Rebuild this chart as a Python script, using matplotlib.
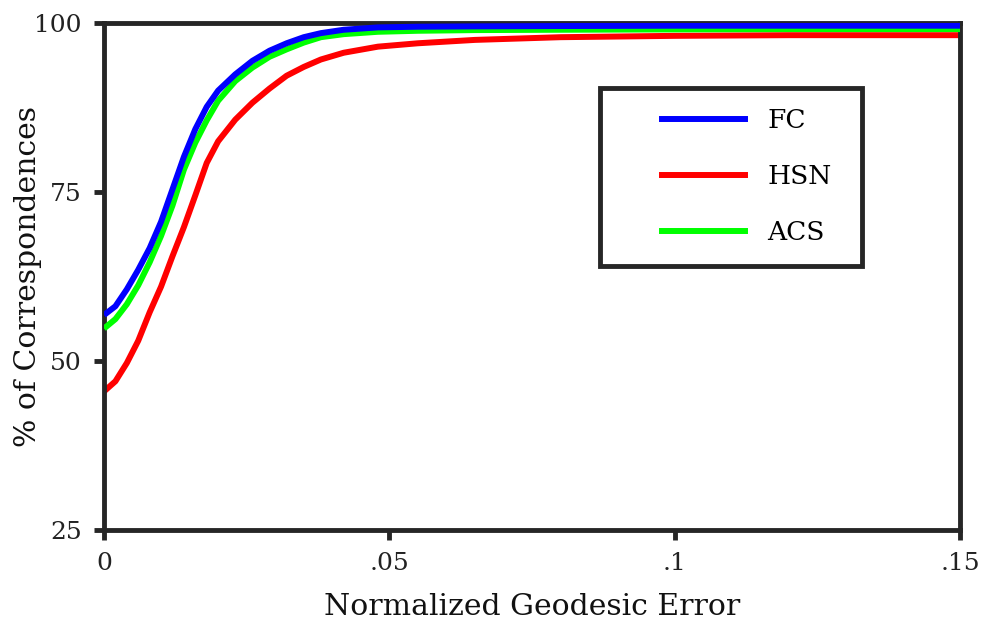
import matplotlib
matplotlib.use("Agg")
import matplotlib.pyplot as plt
from matplotlib.lines import Line2D
from matplotlib.patches import Rectangle

# Data
x_err = [0, 0.002, 0.004, 0.006, 0.008, 0.010, 0.012, 0.014, 0.016, 0.018, 0.020,
         0.023, 0.026, 0.029, 0.032, 0.035, 0.038, 0.042, 0.048, 0.055, 0.065,
         0.080, 0.100, 0.120, 0.150]
fc = [56.8, 58.1, 60.6, 63.5, 66.7, 70.6, 75.4, 80.2, 84.3, 87.6, 90.0,
      92.4, 94.4, 95.9, 97.0, 97.9, 98.5, 99.0, 99.35, 99.45, 99.5,
      99.55, 99.6, 99.6, 99.6]
hsn = [45.5, 47.0, 49.7, 53.0, 57.2, 61.0, 65.5, 69.8, 74.5, 79.3, 82.5,
       85.7, 88.2, 90.3, 92.2, 93.5, 94.6, 95.6, 96.5, 97.0, 97.5,
       97.9, 98.1, 98.2, 98.2]
acs = [54.8, 56.2, 58.4, 61.2, 64.6, 68.5, 73.0, 78.3, 82.3, 85.6, 88.5,
       91.4, 93.4, 95.0, 96.1, 97.1, 97.9, 98.35, 98.7, 98.85, 98.95,
       99.0, 99.05, 99.1, 99.1]
series_names = ["FC", "HSN", "ACS"]
series_colors = ["#0000ff", "#ff0000", "#00ff00"]
xticks = [0, 0.05, 0.1, 0.15]
xtick_labels = ["0", ".05", ".1", ".15"]
yticks = [25, 50, 75, 100]
ytick_labels = ["25", "50", "75", "100"]

plt.rcParams['font.family'] = ['DejaVu Serif']
W, H = 982, 626
fig = plt.figure(figsize=(W/100, H/100), dpi=100)
ax = fig.add_axes([104/W, 1-530/H, (960-104)/W, (530-23)/H])

for vals, c, z in [(hsn, series_colors[1], 2), (acs, series_colors[2], 3), (fc, series_colors[0], 4)]:
    ax.plot(x_err, vals, color=c, lw=4.3, zorder=z, solid_capstyle='butt',
            solid_joinstyle='round')

ax.set_xlim(0, 0.15)
ax.set_ylim(25, 100)
ax.set_xticks(xticks)
ax.set_xticklabels(xtick_labels)
ax.set_yticks(yticks)
ax.set_yticklabels(ytick_labels)
spine_c = "#262626"
for s in ax.spines.values():
    s.set_linewidth(3.5)
    s.set_color(spine_c)
ax.tick_params(direction='out', length=7, width=3.5, color=spine_c,
               labelsize=18, labelcolor="#222222", top=False, right=False, pad=9)
ax.set_xlabel("Normalized Geodesic Error", fontsize=21.5, color="#111111")
ax.set_ylabel("% of Correspondences", fontsize=21.5, color="#111111")
ax.xaxis.set_label_coords(0.5, (530-593)/507)
ax.yaxis.set_label_coords((42-104)/856, 0.5)

# legend: lines + labels, frame drawn as a box in figure pixels
handles = [Line2D([], [], color=c, lw=4.3) for c in series_colors]
leg = fig.legend(handles, series_names, loc='upper left',
                 bbox_to_anchor=(662/W, 1-108/H),
                 fontsize=19, handlelength=3.15, handletextpad=0.85,
                 labelspacing=1.18, borderpad=0, borderaxespad=0,
                 frameon=False)
box = Rectangle((600/W, 1-266/H), (862-600)/W, (266-88)/H, transform=fig.transFigure,
                fill=False, edgecolor=spine_c, lw=3.5, zorder=10)
fig.add_artist(box)

fig.savefig("out.png", dpi=100)
